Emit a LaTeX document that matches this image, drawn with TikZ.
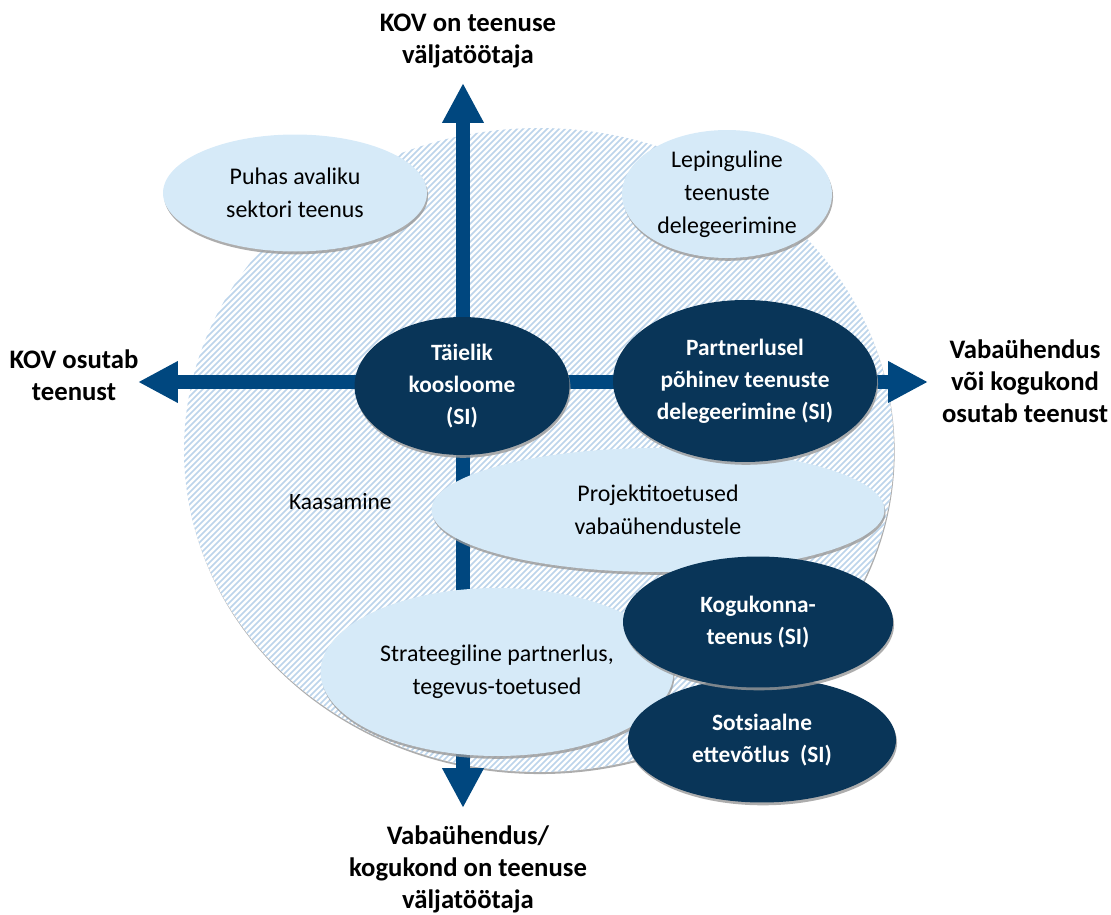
\documentclass[tikz,border=0pt]{standalone}
\usepackage{fontspec}
\setmainfont{Carlito}
\usetikzlibrary{shapes.geometric,arrows.meta,shadows,backgrounds}
\definecolor{axisblue}{RGB}{0,71,127}
\definecolor{darknavy}{RGB}{9,53,88}
\definecolor{paleblue}{RGB}{214,234,248}
\definecolor{hatchblue}{RGB}{188,212,235}
\tikzstyle{pale} = [ellipse, fill=paleblue, inner sep=0pt, align=center,
    font=\fontsize{13.6}{18.8}\selectfont,
    drop shadow={shadow xshift=0.6pt,shadow yshift=-1.6pt,fill=black!40,opacity=.8}]
\tikzstyle{dark} = [ellipse, fill=darknavy, text=white, inner sep=0pt, align=center,
    font=\bfseries\fontsize{13.3}{18.2}\selectfont,
    drop shadow={shadow xshift=0.6pt,shadow yshift=-1.6pt,fill=black!40,opacity=.8}]
\tikzstyle{heading} = [align=center, font=\bfseries\fontsize{15.2}{18.2}\selectfont]
\tikzstyle{hatch} = [draw=hatchblue, line width=0.9pt]
\tikzstyle{axis} = [draw=axisblue, line width=0.27cm,
    {Triangle[width=0.78cm,length=0.8cm]}-{Triangle[width=0.78cm,length=0.8cm]}]

\begin{document}
\begin{tikzpicture}[x=0.02cm,y=-0.02cm]
    \useasboundingbox (0,0) rectangle (1111,915);
    % Place nodes
    \node [heading] (devkov) at (468,41) {KOV on teenuse\\väljatöötaja};
    \node [heading] (provkov) at (74,375) {KOV osutab\\teenust};
    \node [heading] (provngo) at (1025,381) {Vabaühendus\\või kogukond\\osutab teenust};
    \node [heading] (devngo) at (468,869) {Vabaühendus/\\kogukond on teenuse\\väljatöötaja};

    \node [font=\fontsize{13.3}{18}\selectfont, anchor=west] (kaasamine) at (283,502) {Kaasamine};

    \node [pale, minimum width=5.28cm, minimum height=2.34cm] (puhas) at (295,193) {Puhas avaliku\\sektori teenus};
    \node [pale, minimum width=4.2cm, minimum height=2.56cm] (leping) at (727,194) {Lepinguline\\teenuste\\delegeerimine};
    \node [pale, minimum width=9.06cm, minimum height=2.48cm] (projekt) at (658,510) {Projektitoetused\\vabaühendustele};
    \node [pale, minimum width=7.06cm, minimum height=3.36cm] (strateeg) at (497,672) {Strateegiline partnerlus,\\tegevus-toetused};

    \node [dark, minimum width=4.3cm, minimum height=2.76cm] (taielik) at (462,386) {Täielik\\koosloome\\(SI)};
    \node [dark, minimum width=5.28cm, minimum height=3.24cm] (partner) at (745,381) {Partnerlusel\\põhinev teenuste\\delegeerimine (SI)};
    \node [dark, minimum width=5.36cm, minimum height=2.5cm] (sotsiaal) at (762,740) {Sotsiaalne\\ettevõtlus~~(SI)};
    \node [dark, minimum width=5.4cm, minimum height=2.62cm] (kogukond) at (758,622) {Kogukonna-\\teenus (SI)};

    \coordinate (ntip) at (463,83);
    \coordinate (stip) at (463,808);
    \coordinate (wtip) at (138,382);
    \coordinate (etip) at (928,382);

    % Draw edges
    \begin{scope}[on background layer]
    \node [ellipse, minimum width=14.2cm, minimum height=12.88cm, fill=white,
        drop shadow={shadow xshift=0.4pt,shadow yshift=-1.2pt,fill=black!40,opacity=.8}] (zone) at (539,450) {};
    \begin{scope}
    \clip (zone.center) ellipse [x radius=355, y radius=322];
    \foreach \k in {150,156,...,1650}
        \path [hatch] (\k-700,800) -- (\k,100);
    \end{scope}
    \path [axis] (ntip) -- (stip);
    \path [axis] (wtip) -- (etip);
    \end{scope}
\end{tikzpicture}
\end{document}
